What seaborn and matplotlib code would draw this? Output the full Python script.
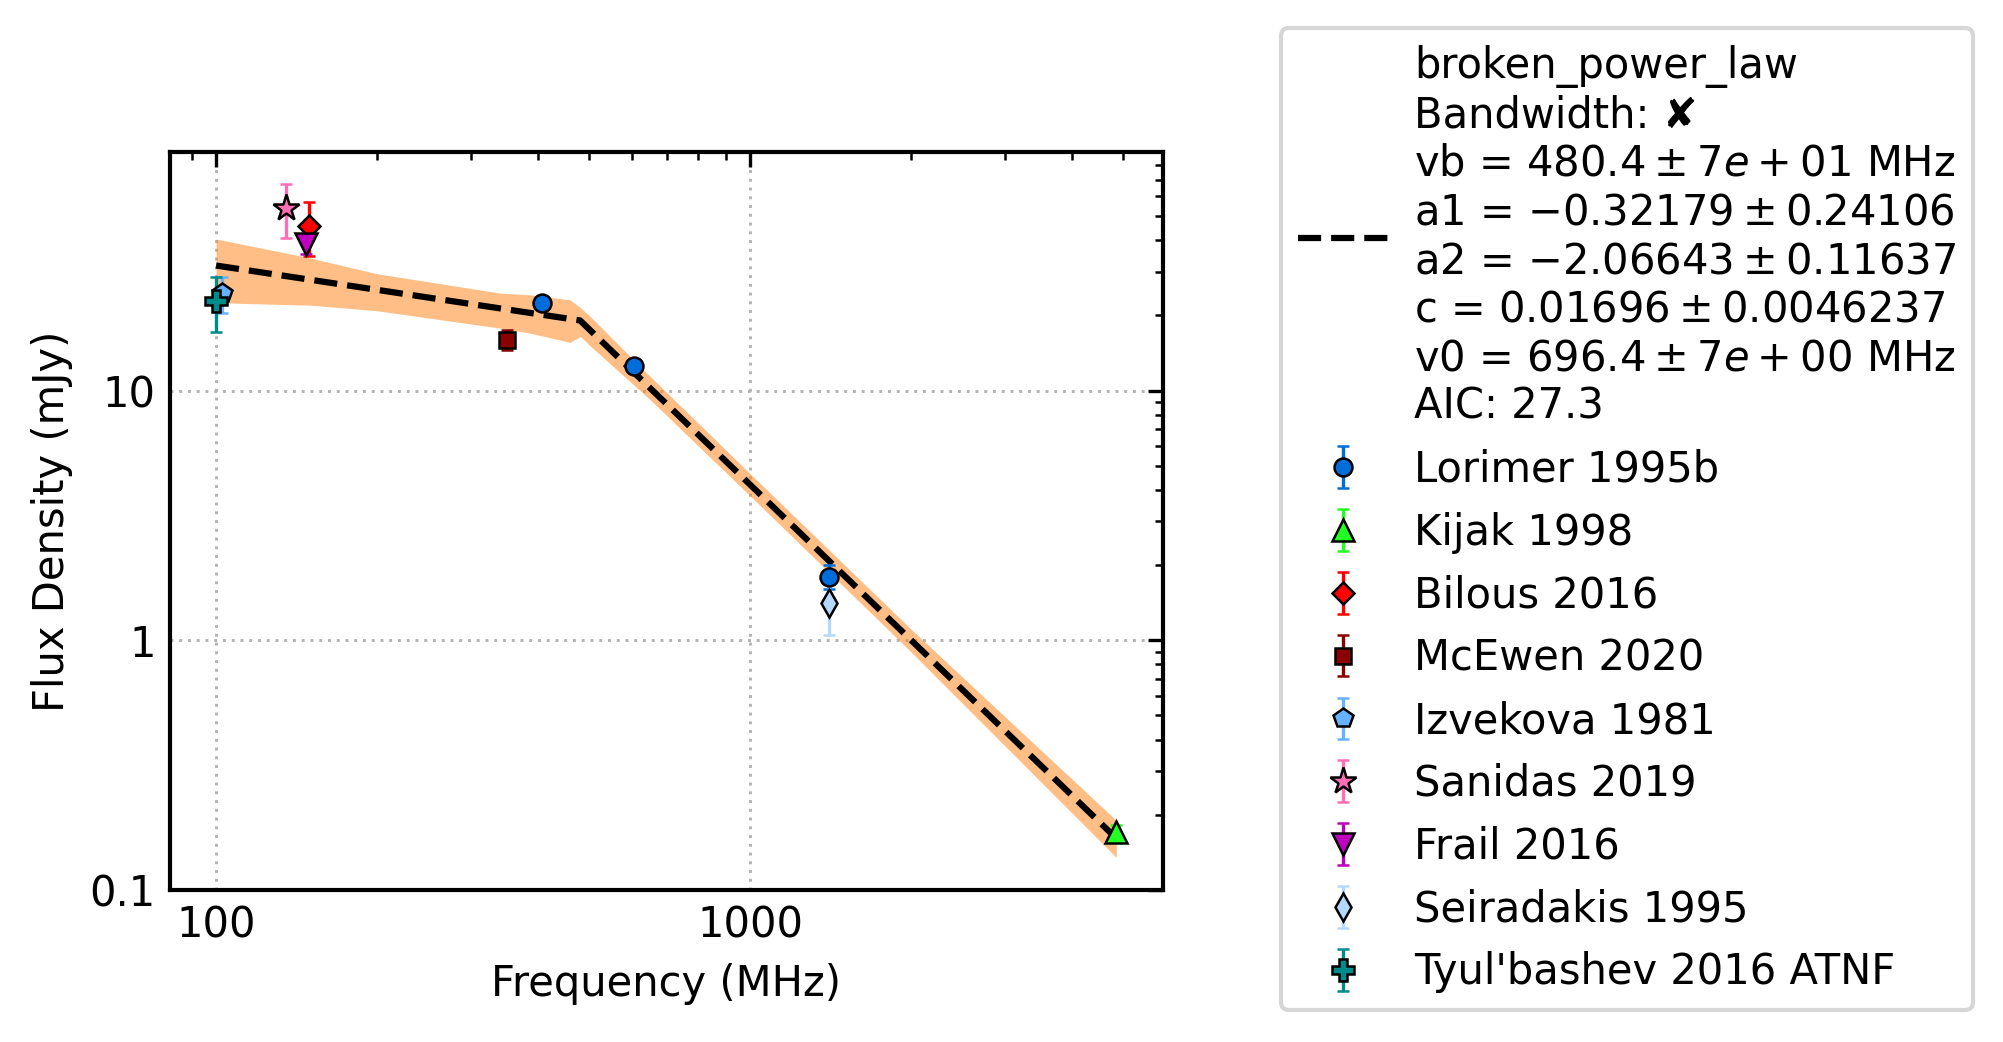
import matplotlib
matplotlib.use('Agg')
import matplotlib.pyplot as plt
from matplotlib.ticker import FuncFormatter, NullFormatter
import seaborn as sns

# Setting the visual style for the plot
sns.set_style('white')
plt.rcParams['font.family'] = ['DejaVu Sans']
plt.rcParams.update({'text.color': 'black', 'axes.labelcolor': 'black',
                     'xtick.color': 'black', 'ytick.color': 'black',
                     'axes.edgecolor': 'black'})

# Fitted broken power law (dashed line)
fit_freq = [100, 480.4, 4850]
fit_flux = [31.7, 19.1, 0.161]

# Uncertainty band of the fit
band_freq = [100, 150, 200, 340, 387, 460, 481, 502, 650, 1000, 2000, 4850]
band_hi = [40.5, 34.0, 29.4, 24.6, 24.2, 23.1, 21.5, 19.8, 11.4, 4.65, 1.11, 0.190]
band_lo = [22.5, 22.0, 20.9, 17.8, 17.0, 15.6, 16.5, 15.1, 9.2, 3.79, 0.90, 0.135]

# Measurements (MHz, mJy)
lorimer_freq = [408, 606, 1408]
lorimer_flux = [22.4, 12.6, 1.8]
lorimer_err = [1.0, 0.6, 0.2]

kijak_freq = [4850]
kijak_flux = [0.170]
kijak_err = [0.012]

bilous_freq = [149]
bilous_flux = [45.8]
bilous_err = [11.3]

mcewen_freq = [350]
mcewen_flux = [16.0]
mcewen_err = [1.5]

izvekova_freq = [102.5]
izvekova_flux = [24.5]
izvekova_err = [4.0]

sanidas_freq = [135]
sanidas_flux = [54.0]
sanidas_err = [13.3]

frail_freq = [147.5]
frail_flux = [38.5]
frail_err = [3.2]

seiradakis_freq = [1408]
seiradakis_flux = [1.41]
seiradakis_err = [0.36]

tyulbashev_freq = [100]
tyulbashev_flux = [22.9]
tyulbashev_err = [5.7]

fit_label = ("broken_power_law\nBandwidth: \u2718\n"
             "vb = $480.4 \\pm 7e+01$ MHz\n"
             "a1 = $-0.32179 \\pm 0.24106$\n"
             "a2 = $-2.06643 \\pm 0.11637$\n"
             "c = $0.01696 \\pm 0.0046237$\n"
             "v0 = $696.4 \\pm 7e+00$ MHz\n"
             "AIC: 27.3")

series = [
    ("Lorimer 1995b", lorimer_freq, lorimer_flux, lorimer_err, 'o', '#006ddb', 4.3),
    ("Kijak 1998", kijak_freq, kijak_flux, kijak_err, '^', '#22ff22', 5.5),
    ("Bilous 2016", bilous_freq, bilous_flux, bilous_err, 'D', '#ff0000', 3.8),
    ("McEwen 2020", mcewen_freq, mcewen_flux, mcewen_err, 's', '#8b0000', 4.0),
    ("Izvekova 1981", izvekova_freq, izvekova_flux, izvekova_err, 'p', '#66b2ff', 4.8),
    ("Sanidas 2019", sanidas_freq, sanidas_flux, sanidas_err, '*', '#ff6eb4', 6.5),
    ("Frail 2016", frail_freq, frail_flux, frail_err, 'v', '#bf00bf', 5.5),
    ("Seiradakis 1995", seiradakis_freq, seiradakis_flux, seiradakis_err, 'd', '#b3d9ff', 4.6),
    ("Tyul'bashev 2016 ATNF", tyulbashev_freq, tyulbashev_flux, tyulbashev_err, 'P', '#008b8b', 5.5),
]

fig = plt.figure(figsize=(2003 / 300, 1042 / 300), dpi=300)
ax = fig.add_axes([0.0849, 0.1459, 0.5806 - 0.0849, 0.8541 - 0.1459])

# fit band and line
ax.fill_between(band_freq, band_lo, band_hi, color='C1', alpha=0.5, lw=0, zorder=1)
sns.lineplot(x=fit_freq, y=fit_flux, ax=ax, color='k', linestyle='--', lw=1.5,
             label=fit_label, zorder=2)

handles = [ax.get_lines()[0]]
labels = [fit_label]
for name, f, s, e, m, c, ms in series:
    h = ax.errorbar(f, s, yerr=e, fmt=m, color=c, mec='k', mew=0.6, ms=ms,
                    elinewidth=0.8, capsize=1.5, capthick=0.9, label=name, zorder=3)
    handles.append(h)
    labels.append(name)

ax.set_xscale('log')
ax.set_yscale('log')
ax.set_xlim(82, 5930)
ax.set_ylim(0.1, 90.3)

fmt = FuncFormatter(lambda v, p: f'{v:g}')
ax.xaxis.set_major_formatter(fmt)
ax.yaxis.set_major_formatter(fmt)
ax.xaxis.set_minor_formatter(NullFormatter())
ax.yaxis.set_minor_formatter(NullFormatter())

ax.tick_params(which='both', direction='in', top=True, right=True, labelsize=10)
ax.tick_params(which='major', length=3.5, width=0.8)
ax.tick_params(which='minor', length=2, width=0.6)
for sp in ax.spines.values():
    sp.set_linewidth(1.0)
    sp.set_color('black')

ax.grid(True, which='major', ls=(0, (1, 2)), color='0.7', lw=0.7)
ax.set_axisbelow(True)

ax.set_xlabel('Frequency (MHz)', fontsize=10)
ax.set_ylabel('Flux Density (mJy)', fontsize=10)

ax.legend(handles, labels, loc='upper left', bbox_to_anchor=(0.6395, 0.9731),
          bbox_transform=fig.transFigure, borderaxespad=0, fontsize=10,
          handlelength=2.2, handletextpad=0.6)

fig.savefig('out.png', dpi=300)
